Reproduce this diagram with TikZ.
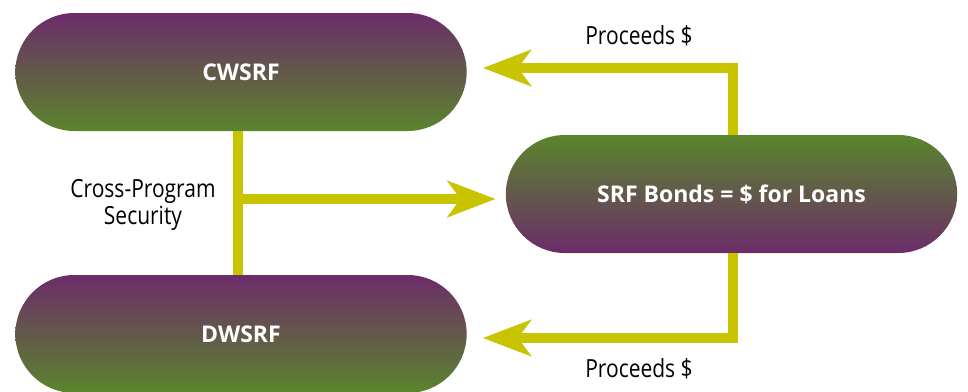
\documentclass[tikz,border=0pt]{standalone}
\usepackage{fontspec}
\setmainfont{Open Sans}
\newfontfamily\narrowfont[FakeStretch=0.84]{Open Sans}
\usepackage{tikz}
\usetikzlibrary{shapes.misc,arrows.meta}
\definecolor{srfpurple}{HTML}{6C2C6A}
\definecolor{srfgreen}{HTML}{5A852C}
\definecolor{srfgray}{HTML}{6F6B67}
\definecolor{srfyellow}{HTML}{C9C400}

\begin{document}
\begin{tikzpicture}[x=1pt,y=-1pt,
    fund/.style={rounded rectangle, minimum width=458pt, minimum height=118pt,
        shading=axis, top color=srfpurple, middle color=srfgray, bottom color=srfgreen,
        text=white, font=\fontsize{23}{27}\selectfont\bfseries},
    bonds/.style={fund, top color=srfgreen, bottom color=srfpurple},
    flow/.style={srfyellow, line width=10pt,
        -{Stealth[length=48pt,width=36pt,inset=13pt]}},
    link/.style={srfyellow, line width=10pt},
    lbl/.style={font=\narrowfont\fontsize{25}{27}\selectfont, align=center}]
    \useasboundingbox (0,0) rectangle (968,391);

    \node[fund] (cw) at (241,72) {CWSRF};
    \node[fund] (dw) at (241,334) {DWSRF};
    \node[bonds] (srf) at (731.5,194) {SRF Bonds = \$ for Loans};

    \coordinate (cwtap) at (238,131);
    \coordinate (dwtap) at (238,275);
    \coordinate (mid) at (238,199);
    \coordinate (uptop) at (733,68);
    \coordinate (dntop) at (733,338);

    \draw[link] (cwtap) -- (dwtap);
    \draw[flow, shorten >=10pt] (mid) -- (srf.west |- mid);
    \draw[flow, shorten >=16pt] (srf.north -| uptop) -- (uptop) -- (cw.east |- uptop);
    \draw[flow, shorten >=16pt] (srf.south -| dntop) -- (dntop) -- (dw.east |- dntop);

    \node[lbl] (cross) at (143,205) {Cross-Program\\Security};
    \node[lbl, anchor=base] (ptop) at (639,44) {Proceeds \$};
    \node[lbl, anchor=base] (pbot) at (639,377) {Proceeds \$};
\end{tikzpicture}
\end{document}
